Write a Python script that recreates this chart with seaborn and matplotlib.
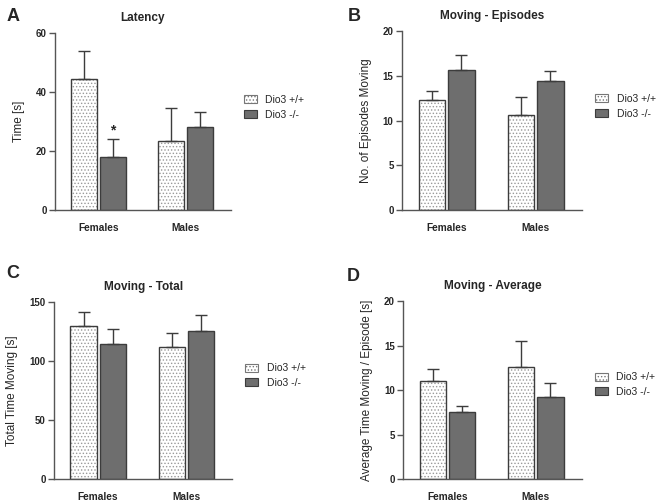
import pandas as pd
import matplotlib.pyplot as plt
import seaborn as sns
from matplotlib.patches import Patch, Rectangle

# Values (mean, upper SEM bar)
sexes = ['Females', 'Males']
genotypes = ['Dio3 +/+', 'Dio3 -/-']

latency_wt = [44.4, 23.5]
latency_ko = [18.1, 28.0]
latency_wt_err = [9.5, 11.0]
latency_ko_err = [5.9, 5.3]

episodes_wt = [12.3, 10.6]
episodes_ko = [15.7, 14.45]
episodes_wt_err = [0.95, 2.0]
episodes_ko_err = [1.65, 1.05]

total_wt = [129.7, 112.0]
total_ko = [114.5, 125.5]
total_wt_err = [12.2, 11.6]
total_ko_err = [12.7, 13.5]

average_wt = [11.06, 12.56]
average_ko = [7.5, 9.2]
average_wt_err = [1.35, 2.9]
average_ko_err = [0.76, 1.6]

panels = [
    ('A', 'Latency', 'Time [s]', latency_wt, latency_ko, latency_wt_err, latency_ko_err, [0, 20, 40, 60]),
    ('B', 'Moving - Episodes', 'No. of Episodes Moving', episodes_wt, episodes_ko, episodes_wt_err, episodes_ko_err, [0, 5, 10, 15, 20]),
    ('C', 'Moving - Total', 'Total Time Moving [s]', total_wt, total_ko, total_wt_err, total_ko_err, [0, 50, 100, 150]),
    ('D', 'Moving - Average', 'Average Time Moving / Episode [s]', average_wt, average_ko, average_wt_err, average_ko_err, [0, 5, 10, 15, 20]),
]

sns.set_style('white')
plt.rcParams['font.family'] = ['Liberation Sans', 'DejaVu Sans']
plt.rcParams['hatch.linewidth'] = 0.6

dark = '#6e6e6e'
edge = '#3c3c3c'
dots = '#9a9a9a'

fig = plt.figure(figsize=(6.6, 5.04), dpi=100)
rects = [
    [0.0833, 0.5833, 0.2667, 0.351],
    [0.609, 0.5833, 0.273, 0.355],
    [0.0818, 0.0496, 0.27, 0.351],
    [0.6106, 0.0496, 0.271, 0.353],
]
letter_pos = [(0.010, 0.985), (0.527, 0.985), (0.010, 0.475), (0.525, 0.468)]
legend_y = [0.58, 0.58, 0.585, 0.53]

for i, (letter, title, ylabel, wt, ko, wt_err, ko_err, yticks) in enumerate(panels):
    ax = fig.add_axes(rects[i])
    df = pd.DataFrame({
        'sex': sexes * 2,
        'genotype': [genotypes[0]] * 2 + [genotypes[1]] * 2,
        'value': wt + ko,
        'err': wt_err + ko_err,
    })
    sns.barplot(data=df, x='sex', y='value', hue='genotype', order=sexes,
                hue_order=genotypes, palette=['white', dark], width=0.66, gap=0.1,
                errorbar=None, edgecolor=edge, linewidth=1.0, legend=False, ax=ax)

    # dotted fill for wild type, then outline on top
    for p in ax.containers[0]:
        p.set_hatch('.....')
        p.set_edgecolor(dots)
        p.set_linewidth(0)
        ax.add_patch(Rectangle((p.get_x(), p.get_y()), p.get_width(), p.get_height(),
                               fill=False, edgecolor=edge, linewidth=1.0, zorder=3))

    # upper error bars only
    for cont, g in zip(ax.containers[:2], genotypes):
        sub = df[df['genotype'] == g]
        xs = [p.get_x() + p.get_width() / 2 for p in cont]
        ax.errorbar(xs, sub['value'], yerr=[[0] * len(sub), sub['err']], fmt='none',
                    ecolor=edge, elinewidth=1.0, capsize=4.5, capthick=1.0, zorder=1)

    if letter == 'A':
        p = ax.containers[1][0]
        ax.text(p.get_x() + p.get_width() / 2, ko[0] + ko_err[0] + 0.6, '*',
                ha='center', va='bottom', fontsize=10, fontweight='bold')

    ax.set_xlim(-0.5, 1.52)
    ax.set_ylim(0, yticks[-1])
    ax.set_yticks(yticks)
    ax.set_xlabel('')
    ax.set_ylabel(ylabel, fontsize=8.5, labelpad=8)
    ax.set_title(title, fontsize=8.5, fontweight='bold', pad=9)
    for s in ['top', 'right']:
        ax.spines[s].set_visible(False)
    for s in ['left', 'bottom']:
        ax.spines[s].set_color('#555555')
        ax.spines[s].set_linewidth(1.0)
    ax.tick_params(axis='y', left=True, length=4, width=1, color='#555555', labelsize=7, pad=2)
    ax.tick_params(axis='x', bottom=False, labelsize=7.3, pad=6)
    for lbl in ax.get_yticklabels() + ax.get_xticklabels():
        lbl.set_fontweight('bold')

    handles = [Patch(facecolor='white', edgecolor='#777777', hatch='.....', linewidth=0.8),
               Patch(facecolor=dark, edgecolor=edge, linewidth=0.8)]
    ax.legend(handles, genotypes, loc='center left', bbox_to_anchor=(1.03, legend_y[i]),
              frameon=False, fontsize=7.5, handlelength=1.3, handleheight=0.8,
              handletextpad=0.8, labelspacing=0.45, borderpad=0.2)

    fig.text(letter_pos[i][0], letter_pos[i][1], letter, fontsize=13,
             fontweight='bold', va='top', ha='left')

fig.savefig('out.png', dpi=100)
